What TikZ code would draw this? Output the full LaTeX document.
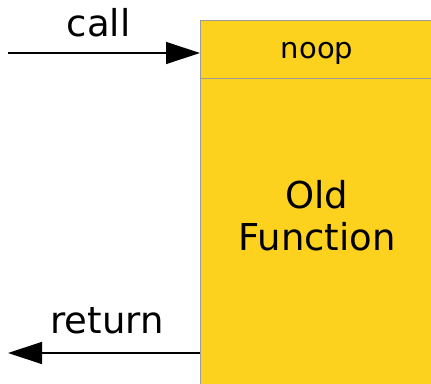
\documentclass[tikz,border=0pt]{standalone}
\usepackage{fontspec}
\setmainfont{DejaVu Sans}
\usetikzlibrary{arrows.meta}
\definecolor{fnyellow}{HTML}{FDD21F}
\definecolor{fnedge}{HTML}{9A9A9A}
\tikzset{
  fnbox/.style={draw=fnedge, fill=fnyellow, line width=1.2pt, inner sep=0pt, anchor=north west},
  flow/.style={line width=1.3pt, -{Triangle[length=34pt, width=22pt]}},
  flowlabel/.style={font=\fontsize{37}{43}\selectfont, inner sep=0pt, anchor=base}
}
\begin{document}
\begin{tikzpicture}[x=1pt, y=-1pt]
  \useasboundingbox (0,0) rectangle (431,383);
  \clip (0,0) rectangle (431,383);
  % function body, running off the right and bottom edges
  \node[fnbox, minimum width=240pt, minimum height=320pt] (old) at (200,78) {};
  \node[font=\fontsize{37}{42}\selectfont, align=center] (oldtxt) at (317,216) {Old\\Function};
  % patched-in entry stub
  \node[fnbox, minimum width=240pt, minimum height=58pt] (noop) at (200,20) {};
  \node[font=\fontsize{29}{34}\selectfont, anchor=base] (nooptxt) at (317,58) {noop};
  % incoming call and outgoing return
  \coordinate (callsrc) at (8,53);
  \coordinate (callin) at (200,53);
  \coordinate (retout) at (200,353);
  \coordinate (retdst) at (8,353);
  \draw[flow] (callsrc) -- (callin);
  \draw[flow] (retout) -- (retdst);
  \node[flowlabel] (calllbl) at (98.5,36) {call};
  \node[flowlabel] (retlbl) at (107,333) {return};
\end{tikzpicture}
\end{document}
